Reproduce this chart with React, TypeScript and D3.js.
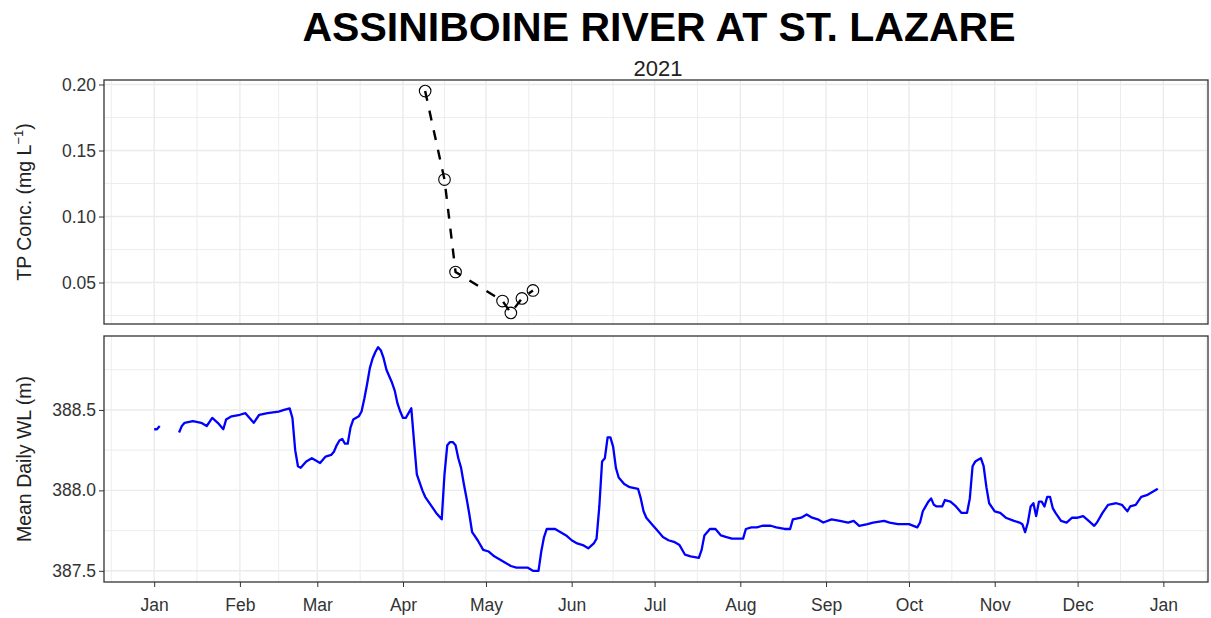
import React, { useEffect, useRef } from 'react';
import * as d3 from 'd3';

// TP concentration samples (mg/L)
const tpDates = ['2021-04-09', '2021-04-16', '2021-04-20', '2021-05-07', '2021-05-10', '2021-05-14', '2021-05-18'];
const tpValues = [0.195, 0.128, 0.058, 0.036, 0.027, 0.038, 0.044];

// Mean daily water level: days since Jan 1 2021, and level (m). null = missing
const wlDays = [
  0, 1, 2, 5, 9, 10, 11, 14, 17, 19, 21, 23, 25, 26, 28, 31, 33, 36, 38, 41, 45, 47, 49, 50, 51, 52, 53, 55, 57, 58,
  60, 62, 64, 65, 66, 67, 68, 69, 70, 71, 72, 74, 75, 76, 77, 78, 79, 80, 81, 82, 83, 84, 86, 87, 88, 89, 90, 91, 92, 93,
  94, 95, 97, 98, 100, 102, 104, 105, 106, 107, 108, 109, 110, 111, 112, 113, 114, 115, 117, 119, 121, 123, 125, 127, 129, 131, 133, 135, 137, 139,
  140, 141, 142, 145, 147, 149, 151, 153, 155, 157, 159, 160, 161, 162, 163, 164, 165, 166, 167, 168, 170, 172, 175, 176, 177, 178, 180, 182, 184, 186,
  188, 190, 192, 194, 197, 198, 199, 201, 203, 205, 207, 209, 213, 214, 216, 218, 220, 223, 225, 228, 230, 231, 234, 236, 238, 240, 242, 245, 248, 251,
  253, 255, 258, 260, 264, 266, 269, 273, 276, 277, 278, 280, 281, 282, 283, 285, 286, 288, 290, 292, 294, 295, 296, 297, 298, 299, 300, 301, 302, 304,
  306, 308, 311, 313, 314, 315, 316, 317, 318, 319, 320, 321, 322, 323, 324, 325, 326, 328, 330, 332, 334, 336, 338, 340, 341, 343, 345, 348, 350, 352,
  353, 355, 357, 359, 361, 363,
];
const wlValues = [
  388.38, 388.38, 388.40, null, 388.36, 388.40, 388.42, 388.43, 388.42, 388.40, 388.45, 388.42, 388.38, 388.44, 388.46, 388.47, 388.48, 388.42, 388.47, 388.48, 388.49, 388.50, 388.51, 388.45, 388.25, 388.15, 388.14, 388.18, 388.20, 388.19,
  388.17, 388.21, 388.22, 388.24, 388.28, 388.31, 388.32, 388.29, 388.29, 388.39, 388.44, 388.46, 388.49, 388.57, 388.66, 388.76, 388.82, 388.86, 388.89, 388.87, 388.82, 388.75, 388.67, 388.62, 388.54, 388.49, 388.45, 388.45, 388.48, 388.51,
  388.30, 388.10, 388.00, 387.96, 387.91, 387.86, 387.82, 388.10, 388.28, 388.30, 388.30, 388.28, 388.20, 388.14, 388.04, 387.95, 387.85, 387.74, 387.69, 387.63, 387.62, 387.59, 387.57, 387.55, 387.53, 387.52, 387.52, 387.52, 387.50, 387.50,
  387.62, 387.71, 387.76, 387.76, 387.74, 387.72, 387.69, 387.67, 387.66, 387.64, 387.67, 387.70, 387.90, 388.18, 388.20, 388.33, 388.33, 388.27, 388.14, 388.08, 388.04, 388.02, 388.01, 387.95, 387.87, 387.83, 387.79, 387.75, 387.71, 387.69,
  387.68, 387.66, 387.60, 387.59, 387.58, 387.63, 387.72, 387.76, 387.76, 387.72, 387.71, 387.70, 387.70, 387.76, 387.77, 387.77, 387.78, 387.78, 387.77, 387.76, 387.76, 387.82, 387.83, 387.85, 387.83, 387.82, 387.80, 387.82, 387.81, 387.80,
  387.81, 387.78, 387.79, 387.80, 387.81, 387.80, 387.79, 387.79, 387.77, 387.80, 387.87, 387.93, 387.95, 387.91, 387.90, 387.90, 387.94, 387.93, 387.90, 387.86, 387.86, 387.95, 388.15, 388.18, 388.19, 388.20, 388.15, 388.02, 387.92, 387.87,
  387.86, 387.83, 387.81, 387.80, 387.79, 387.74, 387.80, 387.90, 387.92, 387.84, 387.93, 387.93, 387.90, 387.96, 387.96, 387.89, 387.86, 387.81, 387.80, 387.83, 387.83, 387.84, 387.81, 387.78, 387.80, 387.86, 387.91, 387.92, 387.91, 387.87,
  387.90, 387.91, 387.96, 387.97, 387.99, 388.01,
];

const tpTicks = [0.05, 0.1, 0.15, 0.2];
const wlTicks = [387.5, 388.0, 388.5];

const FONT = '"Liberation Sans", Arial, Helvetica, sans-serif';
const TEXT = '#333333';
const GRID = '#ebebeb';

const App = () => {
  const svgRef = useRef<SVGSVGElement>(null);

  useEffect(() => {
    const svg = d3.select(svgRef.current);
    svg.selectAll('*').remove();

    const left = 104;
    const right = 1208;
    const top1 = { y0: 80, y1: 324 };
    const top2 = { y0: 336, y1: 582 };

    const start = new Date(2021, 0, 1);
    const toDate = (d: number) => d3.timeDay.offset(start, d);

    const wl = wlDays.map((d, i) => ({ date: toDate(d), value: wlValues[i] }));
    const tp = tpDates.map((s, i) => ({ date: d3.timeParse('%Y-%m-%d')(s) as Date, value: tpValues[i] }));

    // ggplot-like 5% expansion
    const expand = (ext: [number, number]) => {
      const pad = (ext[1] - ext[0]) * 0.05;
      return [ext[0] - pad, ext[1] + pad];
    };

    const tDom = expand(d3.extent(wl, d => +d.date) as [number, number]);
    const x = d3.scaleTime()
      .domain([new Date(tDom[0]), new Date(tDom[1])])
      .range([left, right]);

    const yTp = d3.scaleLinear()
      .domain(expand(d3.extent(tpValues) as [number, number]))
      .range([top1.y1, top1.y0]);

    const wlDefined = wlValues.filter(v => v != null) as number[];
    const yWl = d3.scaleLinear()
      .domain(expand(d3.extent(wlDefined) as [number, number]))
      .range([top2.y1, top2.y0]);

    // month breaks, plus minor breaks halfway between
    const months = d3.timeMonth.range(new Date(2020, 11, 1), new Date(2022, 2, 1));
    const majorX = months.filter(m => x(m) >= left && x(m) <= right);
    const minorX: number[] = [];
    for (let i = 0; i < months.length - 1; i++) {
      const mid = (x(months[i]) + x(months[i + 1])) / 2;
      if (mid > left && mid < right) minorX.push(mid);
    }

    const drawPanel = (p: { y0: number; y1: number }, y: d3.ScaleLinear<number, number>, ticks: number[], step: number, fmt: string) => {
      const g = svg.append('g');
      g.append('rect')
        .attr('x', left).attr('y', p.y0)
        .attr('width', right - left).attr('height', p.y1 - p.y0)
        .attr('fill', 'white');

      const [lo, hi] = y.domain();
      const minorY: number[] = [];
      for (let v = Math.floor(lo / step) * step - step / 2; v <= hi; v += step) {
        if (v > lo && v < hi) minorY.push(v);
      }
      g.selectAll('.minY').data(minorY).enter().append('line')
        .attr('x1', left).attr('x2', right)
        .attr('y1', d => y(d)).attr('y2', d => y(d))
        .attr('stroke', GRID).attr('stroke-width', 0.9);
      g.selectAll('.minX').data(minorX).enter().append('line')
        .attr('x1', d => d).attr('x2', d => d)
        .attr('y1', p.y0).attr('y2', p.y1)
        .attr('stroke', GRID).attr('stroke-width', 0.9);
      g.selectAll('.majY').data(ticks).enter().append('line')
        .attr('x1', left).attr('x2', right)
        .attr('y1', d => y(d)).attr('y2', d => y(d))
        .attr('stroke', GRID).attr('stroke-width', 1.4);
      g.selectAll('.majX').data(majorX).enter().append('line')
        .attr('x1', d => x(d)).attr('x2', d => x(d))
        .attr('y1', p.y0).attr('y2', p.y1)
        .attr('stroke', GRID).attr('stroke-width', 1.4);

      const ax = svg.append('g')
        .attr('transform', `translate(${left},0)`)
        .call(d3.axisLeft(y).tickValues(ticks).tickSize(5).tickPadding(3)
          .tickFormat(d => d3.format(fmt)(d as number)));
      ax.select('.domain').remove();
      ax.selectAll('line').attr('stroke', TEXT).attr('stroke-width', 1);
      ax.selectAll('text').attr('fill', TEXT).style('font-family', FONT).style('font-size', '17.5px');
    };

    drawPanel(top1, yTp, tpTicks, 0.05, '.2f');
    drawPanel(top2, yWl, wlTicks, 0.5, '.1f');

    // TP dashed line and open points
    const tpLine = d3.line<{ date: Date; value: number }>()
      .x(d => x(d.date)).y(d => yTp(d.value));
    svg.append('path')
      .datum(tp)
      .attr('d', tpLine)
      .attr('fill', 'none')
      .attr('stroke', 'black')
      .attr('stroke-width', 2.4)
      .attr('stroke-dasharray', '10,10');
    svg.selectAll('.tp').data(tp).enter().append('circle')
      .attr('cx', d => x(d.date)).attr('cy', d => yTp(d.value))
      .attr('r', 5.8)
      .attr('fill', 'none')
      .attr('stroke', 'black')
      .attr('stroke-width', 1.1);

    // water level line
    const wlLine = d3.line<{ date: Date; value: number | null }>()
      .defined(d => d.value != null)
      .x(d => x(d.date)).y(d => yWl(d.value as number));
    svg.append('path')
      .datum(wl)
      .attr('d', wlLine)
      .attr('fill', 'none')
      .attr('stroke', '#0000ff')
      .attr('stroke-width', 2.3)
      .attr('stroke-linejoin', 'round');

    // panel borders
    [top1, top2].forEach(p => {
      svg.append('rect')
        .attr('x', left).attr('y', p.y0)
        .attr('width', right - left).attr('height', p.y1 - p.y0)
        .attr('fill', 'none').attr('stroke', TEXT).attr('stroke-width', 1.3);
    });

    // x axis
    const xa = svg.append('g')
      .attr('transform', `translate(0,${top2.y1})`)
      .call(d3.axisBottom(x).tickValues(majorX).tickSize(5).tickPadding(12)
        .tickFormat(d => d3.timeFormat('%b')(d as Date)));
    xa.select('.domain').remove();
    xa.selectAll('line').attr('stroke', TEXT).attr('stroke-width', 1);
    xa.selectAll('text').attr('fill', TEXT).style('font-family', FONT).style('font-size', '17.5px');

    // titles
    svg.append('text')
      .attr('x', 659).attr('y', 41)
      .attr('text-anchor', 'middle')
      .style('font-family', FONT).style('font-weight', 'bold').style('font-size', '41px')
      .attr('fill', 'black')
      .text('ASSINIBOINE RIVER AT ST. LAZARE');
    svg.append('text')
      .attr('x', 658).attr('y', 76)
      .attr('text-anchor', 'middle')
      .style('font-family', FONT).style('font-size', '22px')
      .attr('fill', '#222')
      .text('2021');

    const lab1 = svg.append('text')
      .attr('transform', `translate(31,${(top1.y0 + top1.y1) / 2}) rotate(-90)`)
      .attr('text-anchor', 'middle')
      .style('font-family', FONT).style('font-size', '19.5px')
      .attr('fill', '#222');
    lab1.append('tspan').text('TP Conc. (mg L');
    lab1.append('tspan').attr('dy', -8).style('font-size', '13px').text('−1');
    lab1.append('tspan').attr('dy', 8).text(')');

    svg.append('text')
      .attr('transform', `translate(31,${(top2.y0 + top2.y1) / 2}) rotate(-90)`)
      .attr('text-anchor', 'middle')
      .style('font-family', FONT).style('font-size', '19.5px')
      .attr('fill', '#222')
      .text('Mean Daily WL (m)');
  }, []);

  return (
    <svg
      ref={svgRef}
      width={1211}
      height={618}
      style={{ position: 'absolute', left: 0, top: 0, background: 'white' }}
    />
  );
};

export default App;
